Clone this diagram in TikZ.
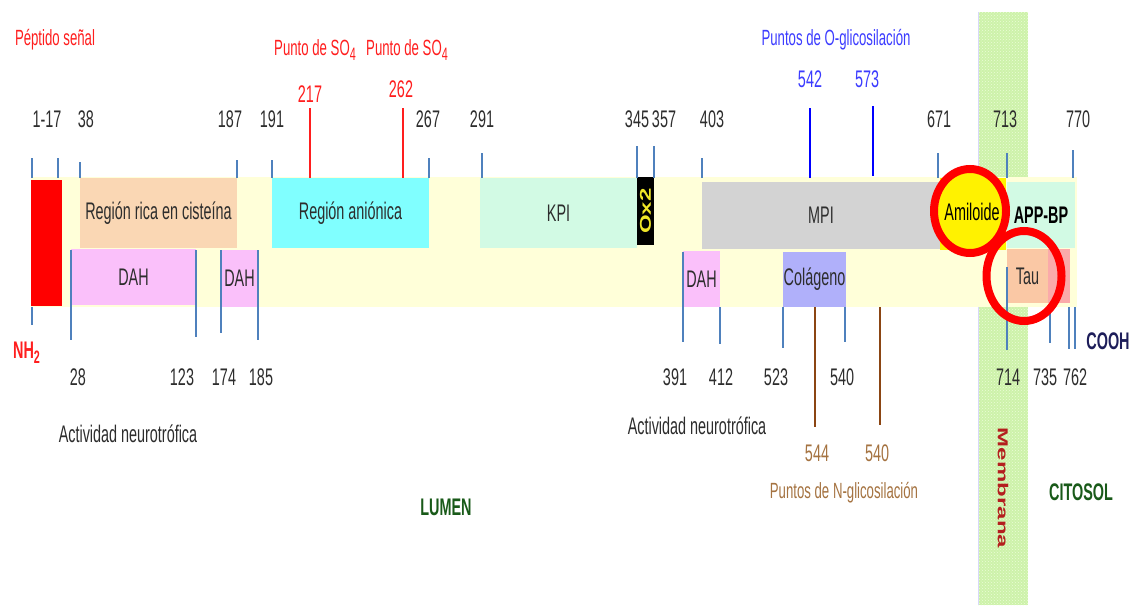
\documentclass[tikz,border=0pt]{standalone}
\usepackage{fontspec}
\setmainfont{Liberation Sans}
\usepackage{graphicx}
\usetikzlibrary{patterns}

\definecolor{bandyel}{RGB}{255,255,217}
\definecolor{peach}{RGB}{250,215,180}
\definecolor{cyanbox}{RGB}{128,255,255}
\definecolor{mint}{RGB}{210,250,228}
\definecolor{greybox}{RGB}{211,211,211}
\definecolor{pinkbox}{RGB}{250,192,250}
\definecolor{lavbox}{RGB}{176,176,250}
\definecolor{taupeach}{RGB}{250,200,165}
\definecolor{taupink}{RGB}{250,170,170}
\definecolor{tickblue}{RGB}{79,129,189}
\definecolor{txtgrey}{RGB}{45,45,45}
\definecolor{sigred}{RGB}{255,30,30}
\definecolor{oblue}{RGB}{60,60,255}
\definecolor{nbrown}{RGB}{139,69,19}
\definecolor{nbrowntxt}{RGB}{165,115,65}
\definecolor{dgreen}{RGB}{25,90,25}
\definecolor{navy}{RGB}{30,30,90}
\definecolor{membgreen}{RGB}{205,242,170}
\definecolor{membdot}{RGB}{235,252,215}
\definecolor{membedge}{RGB}{215,215,250}
\definecolor{membtxt}{RGB}{180,30,30}
\definecolor{oxyel}{RGB}{240,230,40}

% horizontally condensed text
\newcommand\cond[1]{\scalebox{0.6}[1]{#1}}
\newcommand\subfour{\raisebox{-0.45ex}{\fontsize{18}{18}\selectfont 4}}

\begin{document}
\begin{tikzpicture}[x=1pt,y=-1pt,
  lbl/.style={inner sep=0pt, text=txtgrey, font=\fontsize{24}{28}\selectfont},
  head/.style={inner sep=0pt, font=\fontsize{22}{26}\selectfont},
  boldlbl/.style={inner sep=0pt, font=\fontsize{24}{28}\selectfont\bfseries},
  region/.style={lbl, draw=none, anchor=center},
  tick/.style={draw=tickblue, line width=1.3pt},
  ring/.style={draw=red, line width=8pt},
]
\useasboundingbox[fill=white] (0,0) rectangle (1134,605);

% membrane strip
\fill[membgreen] (978,12) rectangle (1028,605);
\fill[pattern=crosshatch dots, pattern color=membdot] (978,12) rectangle (1028,605);
\draw[membedge, line width=1pt] (978.5,12) -- (978.5,605);

% protein band
\fill[bandyel] (31,177) rectangle (1077,307);

% signal peptide
\fill[red] (31,180) rectangle (62,306);

% domains, upper row
\node[region, fill=peach, minimum width=157, minimum height=70] (cys) at (158.5,213) {\cond{Región rica en cisteína}};
\node[region, fill=cyanbox, minimum width=157, minimum height=70] (ani) at (350.5,213) {\cond{Región aniónica}};
\node[region, fill=mint, minimum width=157, minimum height=70] (kpi) at (558.5,213) {\cond{KPI}};
\node[fill=black, minimum width=17, minimum height=68, inner sep=0pt] (ox) at (645.5,211) {};
\node[boldlbl, text=oxyel, rotate=90] (oxt) at (ox) {\scalebox{1}[0.65]{Ox2}};
\node[region, fill=greybox, minimum width=238, minimum height=67] (mpi) at (821,215.5) {\cond{MPI}};
\fill[yellow] (940,178) rectangle (1006,250);
\fill[yellow] (970,211) ellipse [x radius=34, y radius=40];
\node[region, fill=mint, minimum width=68, minimum height=66, font=\fontsize{24}{28}\selectfont\bfseries, text=black] (appbp) at (1041,215) {\cond{APP-BP}};

% domains, lower row
\node[region, fill=pinkbox, minimum width=125, minimum height=56] (dah1) at (133.5,277) {\cond{DAH}};
\node[region, fill=pinkbox, minimum width=38, minimum height=57] (dah2) at (239.5,278.5) {\cond{DAH}};
\node[region, fill=pinkbox, minimum width=37, minimum height=56] (dah3) at (701.5,279) {\cond{DAH}};
\node[region, fill=lavbox, minimum width=63, minimum height=55] (col) at (814.5,279.5) {\cond{Colágeno}};
\node[region, fill=taupeach, minimum width=41, minimum height=54] (tau) at (1027.5,276) {\cond{Tau}};
\node[fill=taupink, minimum width=22, minimum height=54, inner sep=0pt] (taup) at (1059,276) {};

% ticks above the band
\foreach \x/\y in {32/158,58/158,80/162,237/160,272/160,429/158,482/153,637/146,654/146,702/158,938/153,1007/153,1073/150}
  \draw[tick] (\x,\y) -- (\x,178);
% ticks below the band
\foreach \x/\a/\b in {32/307/325,71/250/340,196/250/337,221/250/333,258/250/340,683/252/342,720/307/344,783/307/348,845/307/342,1007/267/350,1050/307/343,1069/307/349,1075/307/349}
  \draw[tick] (\x,\a) -- (\x,\b);

% sulfation sites
\draw[sigred, line width=2pt] (310,108) -- (310,178);
\draw[sigred, line width=2pt] (403,108) -- (403,178);
% O-glycosylation sites
\draw[blue, line width=2.5pt] (810,108) -- (810,178);
\draw[blue, line width=2.5pt] (873,106) -- (873,176);
% N-glycosylation sites
\draw[nbrown, line width=2pt] (815,307) -- (815,427);
\draw[nbrown, line width=2pt] (880,307) -- (880,425);

% circles marking Amiloide and Tau
\draw[ring] (1024,276) ellipse [x radius=37.5, y radius=45];
\draw[ring] (970,211) ellipse [x radius=36, y radius=42];
\node[lbl, text=black] (amil) at (972,212) {\cond{Amiloide}};

% residue numbers, top
\foreach \t/\x [count=\i] in {1-17/47,38/86,187/230,191/272,267/428,291/482,345/637,357/664,403/712,671/939,713/1005,770/1078}
  \node[lbl] (top\i) at (\x,119) {\cond{\t}};
% residue numbers, bottom
\foreach \t/\x [count=\i] in {28/78,123/182,174/224,185/261,391/675,412/721,523/776,540/842,714/1008,735/1045,762/1075}
  \node[lbl] (bot\i) at (\x,377) {\cond{\t}};

% red labels
\node[head, text=sigred] (pep) at (55,40) {\cond{Péptido señal}};
\node[head, text=sigred, anchor=base] (so4a) at (315,55) {\cond{Punto de SO\subfour}};
\node[head, text=sigred, anchor=base] (so4b) at (407,55) {\cond{Punto de SO\subfour}};
\node[lbl, text=sigred] (n217) at (310,94) {\cond{217}};
\node[lbl, text=sigred] (n262) at (401,89) {\cond{262}};
\node[boldlbl, text=sigred, anchor=base west] (nh2) at (13,358) {\cond{NH\raisebox{-0.4ex}{\fontsize{18}{18}\selectfont 2}}};

% blue labels
\node[head, text=oblue] (oglc) at (836,40) {\cond{Puntos de O-glicosilación}};
\node[lbl, text=oblue] (n542) at (810,79) {\cond{542}};
\node[lbl, text=oblue] (n573) at (867,79) {\cond{573}};

% brown labels
\node[lbl, text=nbrowntxt] (n544) at (817,453) {\cond{544}};
\node[lbl, text=nbrowntxt] (n540) at (877,453) {\cond{540}};
\node[head, text=nbrowntxt] (nglc) at (844,493) {\cond{Puntos de N-glicosilación}};

% activity labels
\node[lbl] (act1) at (128,434) {\cond{Actividad neurotrófica}};
\node[lbl] (act2) at (697,426) {\cond{Actividad neurotrófica}};

% compartments
\node[boldlbl, text=dgreen] (lumen) at (446,507) {\cond{LUMEN}};
\node[boldlbl, text=dgreen] (cito) at (1081,492) {\cond{CITOSOL}};
\node[boldlbl, text=navy] (cooh) at (1108,341) {\cond{COOH}};
\node[boldlbl, text=membtxt, rotate=-90] (memb) at (1003,488) {\scalebox{1}[0.6]{Membrana}};
\end{tikzpicture}
\end{document}
